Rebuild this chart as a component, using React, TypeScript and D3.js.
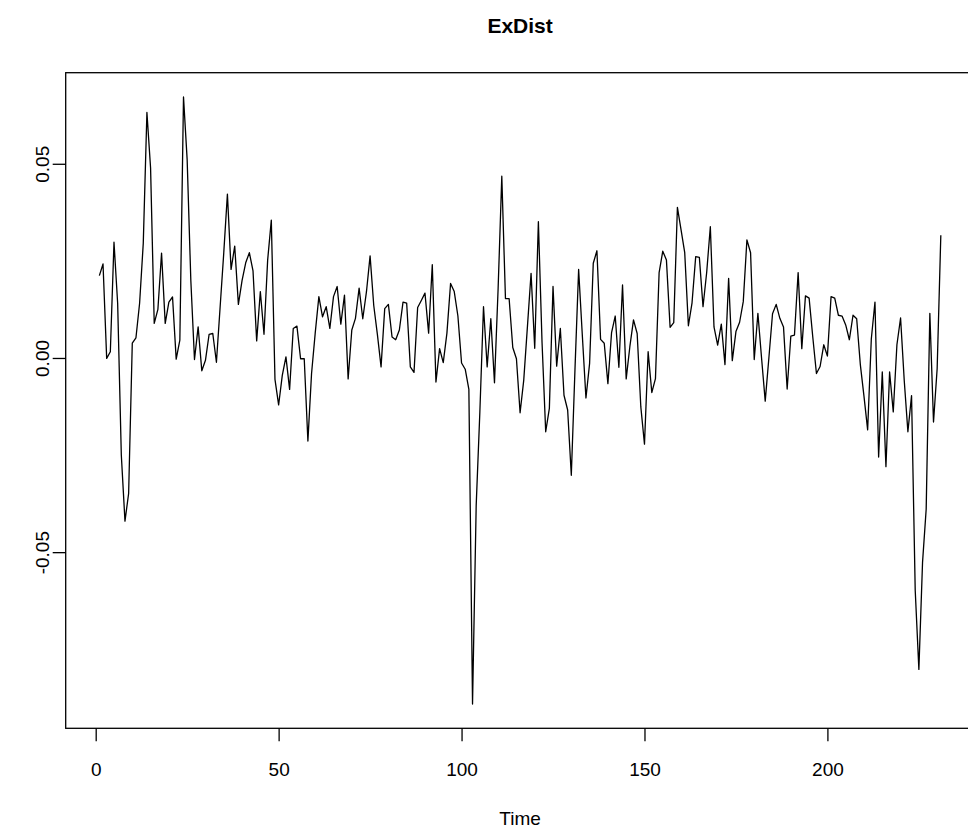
import React, { useEffect, useRef } from 'react';
import * as d3 from 'd3';

const W = 968;
const H = 832;

// ExDist series, t = 1..231
const exDist = [
  0.0212, 0.0242, -0.0001, 0.0016, 0.0298, 0.0141, -0.025, -0.042, -0.0349, 0.0038,
  0.0052, 0.0141, 0.0295, 0.0632, 0.0489, 0.0089, 0.0125, 0.027, 0.0089, 0.0144,
  0.0157, -0.0003, 0.0046, 0.0672, 0.051, 0.020, -0.0004, 0.008, -0.0033, -0.0006,
  0.0061, 0.0063, -0.0011, 0.013, 0.027, 0.0422, 0.0228, 0.0288, 0.0138, 0.0199,
  0.0245, 0.0271, 0.0224, 0.0044, 0.0171, 0.0061, 0.0252, 0.0355, -0.0055, -0.0121,
  -0.0045, 0.0003, -0.0081, 0.0076, 0.0082, -0.0002, -0.0002, -0.0214, -0.004, 0.0064,
  0.0158, 0.0106, 0.0132, 0.0076, 0.0158, 0.0184, 0.0087, 0.0162, -0.0054, 0.0072,
  0.0102, 0.018, 0.0101, 0.017, 0.0263, 0.0135, 0.006, -0.0023, 0.0127, 0.0138,
  0.0054, 0.0047, 0.0072, 0.0144, 0.0141, -0.0023, -0.0037, 0.013, 0.0148, 0.0167,
  0.0064, 0.024, -0.0062, 0.0024, -0.0012, 0.0064, 0.0192, 0.0171, 0.0108, -0.0013,
  -0.0029, -0.0081, -0.0891, -0.038, -0.014, 0.0132, -0.0023, 0.0101, -0.0064, 0.018,
  0.0468, 0.0153, 0.0153, 0.0027, -0.0002, -0.0141, -0.0057, 0.008, 0.0218, 0.0025,
  0.0351, 0.004, -0.019, -0.013, 0.0184, -0.0021, 0.0076, -0.0096, -0.0134, -0.0302,
  -0.003, 0.0228, 0.006, -0.0103, -0.0014, 0.0244, 0.0276, 0.0048, 0.0038, -0.0066,
  0.0065, 0.0108, -0.0024, 0.0188, -0.0054, 0.0029, 0.0098, 0.0063, -0.0126, -0.0222,
  0.0016, -0.0089, -0.0053, 0.022, 0.0275, 0.0252, 0.0079, 0.0091, 0.0388, 0.033,
  0.0271, 0.0083, 0.0142, 0.0261, 0.0259, 0.0132, 0.022, 0.0338, 0.008, 0.0033,
  0.0087, -0.0017, 0.0205, -0.0007, 0.0068, 0.0092, 0.0145, 0.0304, 0.0271, -0.0004,
  0.0115, 0.0, -0.0111, 0.0, 0.0114, 0.0138, 0.0102, 0.008, -0.008, 0.0056,
  0.0059, 0.022, 0.0024, 0.016, 0.0154, 0.0054, -0.004, -0.0022, 0.0034, 0.0005,
  0.0158, 0.0154, 0.011, 0.0108, 0.0085, 0.0047, 0.011, 0.0101, -0.0017, -0.0099,
  -0.0185, 0.0049, 0.0144, -0.0255, -0.0036, -0.028, -0.0036, -0.0139, 0.0034, 0.0103,
  -0.0058, -0.019, -0.0097, -0.0598, -0.0802, -0.0527, -0.0389, 0.0115, -0.0165, -0.0027,
  0.0316,
];

const xTicks = [0, 50, 100, 150, 200];
const yTicks = [-0.05, 0, 0.05];
const yTickLabels = ['-0.05', '0.00', '0.05'];

const FONT = '"Liberation Sans", Arial, Helvetica, sans-serif';

export default function App() {
  const ref = useRef<SVGSVGElement>(null);

  useEffect(() => {
    const svg = d3.select(ref.current);
    svg.selectAll('*').remove();

    // plot region (the right edge falls outside the picture, like the original)
    const left = 65.7, top = 72.7, bottom = 728.3;
    const n = exDist.length;
    const xPad = 0.04 * (n - 1);
    const xDom: [number, number] = [1 - xPad, n + xPad];
    const pxPerUnit = (95.7 - left) / (0 - xDom[0]);
    const right = left + (xDom[1] - xDom[0]) * pxPerUnit;

    const yMin = d3.min(exDist) as number;
    const yMax = d3.max(exDist) as number;
    const yPad = 0.04 * (yMax - yMin);

    const x = d3.scaleLinear().domain(xDom).range([left, right]);
    const y = d3.scaleLinear().domain([yMin - yPad, yMax + yPad]).range([bottom, top]);

    svg.append('rect').attr('width', W).attr('height', H).attr('fill', '#fff');

    const line = d3.line<number>()
      .x((_, i) => x(i + 1))
      .y(d => y(d));

    svg.append('path')
      .datum(exDist)
      .attr('d', line)
      .attr('fill', 'none')
      .attr('stroke', '#000')
      .attr('stroke-width', 1.3)
      .attr('stroke-linejoin', 'round');

    // box
    svg.append('rect')
      .attr('x', left).attr('y', top)
      .attr('width', right - left).attr('height', bottom - top)
      .attr('fill', 'none').attr('stroke', '#000').attr('stroke-width', 1.3);

    // x axis
    const gx = svg.append('g').attr('transform', `translate(0,${bottom})`)
      .call(d3.axisBottom(x).tickValues(xTicks).tickSize(13).tickPadding(0).tickFormat(d3.format('d')));
    gx.select('.domain').remove();
    gx.selectAll('line').attr('stroke', '#000').attr('stroke-width', 1.3);
    gx.selectAll('text')
      .attr('y', 48).attr('dy', 0)
      .attr('fill', '#000')
      .style('font-family', FONT).style('font-size', '19px');

    // y axis
    const gy = svg.append('g').attr('transform', `translate(${left},0)`)
      .call(d3.axisLeft(y).tickValues(yTicks).tickSize(13)
        .tickFormat((_, i) => yTickLabels[i]));
    gy.select('.domain').remove();
    gy.selectAll('line').attr('stroke', '#000').attr('stroke-width', 1.3);
    gy.selectAll('text')
      .attr('x', null).attr('dy', null)
      .attr('transform', `translate(${49 - left},0) rotate(-90)`)
      .attr('text-anchor', 'middle')
      .attr('fill', '#000')
      .style('font-family', FONT).style('font-size', '19px');

    const mid = (left + right) / 2;
    svg.append('text')
      .attr('x', mid).attr('y', 33)
      .attr('text-anchor', 'middle')
      .style('font-family', FONT).style('font-size', '21px').style('font-weight', 'bold')
      .text('ExDist');

    svg.append('text')
      .attr('x', mid).attr('y', 825)
      .attr('text-anchor', 'middle')
      .style('font-family', FONT).style('font-size', '19px')
      .text('Time');
  }, []);

  return (
    <div style={{ position: 'absolute', left: 0, top: 0, width: W, height: H, overflow: 'hidden' }}>
      <svg ref={ref} width={W} height={H} xmlns="http://www.w3.org/2000/svg" />
    </div>
  );
}
